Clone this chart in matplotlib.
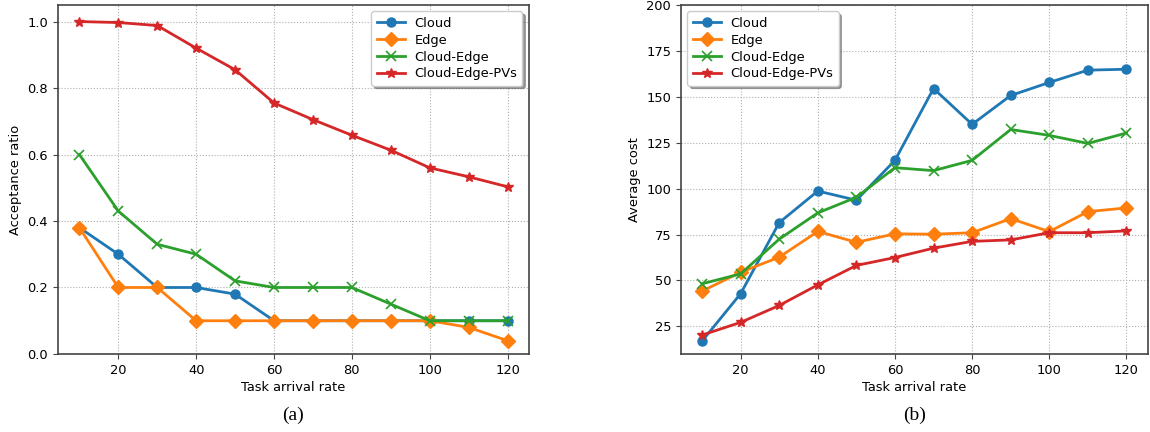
import numpy as np
import matplotlib
matplotlib.use("Agg")
import matplotlib.pyplot as plt

# task arrival rate
x = [10, 20, 30, 40, 50, 60, 70, 80, 90, 100, 110, 120]
names = ["Cloud", "Edge", "Cloud-Edge", "Cloud-Edge-PVs"]

# (a) acceptance ratio
acc_cloud = [0.38, 0.30, 0.20, 0.20, 0.18, 0.10, 0.10, 0.10, 0.10, 0.10, 0.10, 0.10]
acc_edge = [0.38, 0.20, 0.20, 0.10, 0.10, 0.10, 0.10, 0.10, 0.10, 0.10, 0.08, 0.04]
acc_ce = [0.60, 0.43, 0.33, 0.30, 0.22, 0.20, 0.20, 0.20, 0.15, 0.10, 0.10, 0.10]
acc_cepv = [1.0, 0.997, 0.988, 0.92, 0.855, 0.755, 0.705, 0.658, 0.613, 0.56, 0.533, 0.503]

# (b) average cost
cost_cloud = [17.0, 42.8, 81.5, 98.7, 93.7, 115.4, 154.5, 135.0, 150.7, 157.8, 164.5, 165.0]
cost_edge = [44.2, 54.5, 62.7, 76.7, 70.8, 75.4, 75.2, 76.0, 83.7, 76.6, 87.5, 89.5]
cost_ce = [48.2, 53.6, 72.5, 86.8, 95.3, 111.4, 109.8, 115.4, 132.2, 129.0, 124.6, 130.3]
cost_cepv = [20.3, 27.2, 36.4, 47.6, 58.2, 62.5, 67.6, 71.3, 72.1, 76.0, 76.0, 77.0]

styles = [
    dict(color="#1f77b4", marker="o", ms=6.5),
    dict(color="#ff7f0e", marker="D", ms=7),
    dict(color="#2ca02c", marker="x", ms=7, mew=1.2),
    dict(color="#d62728", marker="*", ms=7.5),
]

FS = 9.4
plt.rcParams["font.family"] = "DejaVu Sans"
plt.rcParams["font.size"] = FS

fig = plt.figure(figsize=(11.5, 4.32), dpi=100)
ax1 = fig.add_axes([0.0504, 0.1806, 0.4096, 0.808])
ax2 = fig.add_axes([0.592, 0.1806, 0.406, 0.808])


def draw(ax, series, ylabel, ylim, yticks, ytl, loc):
    for ys, name, st in zip(series, names, styles):
        ax.plot(x, ys, label=name, lw=2, **st)
    ax.set_xlim(4.5, 125.5)
    ax.set_ylim(*ylim)
    ax.set_xticks([20, 40, 60, 80, 100, 120])
    ax.set_yticks(yticks)
    ax.set_yticklabels(ytl)
    ax.grid(True, ls=":", color="#b0b0b0", lw=0.8)
    ax.set_axisbelow(True)
    for s in ax.spines.values():
        s.set_color("#444444")
        s.set_linewidth(1.2)
    ax.tick_params(colors="#444444", labelcolor="black", labelsize=FS, length=3.5)
    ax.set_xlabel("Task arrival rate", fontsize=FS, labelpad=3)
    ax.set_ylabel(ylabel, fontsize=FS, labelpad=4)
    ax.legend(loc=loc, shadow=True, fancybox=True, fontsize=FS, framealpha=1,
              edgecolor="#cccccc", handlelength=2.2, borderpad=0.4,
              labelspacing=0.3, handletextpad=0.7)


draw(ax1, [acc_cloud, acc_edge, acc_ce, acc_cepv], "Acceptance ratio",
     (0, 1.05), [0, 0.2, 0.4, 0.6, 0.8, 1.0],
     ["0.0", "0.2", "0.4", "0.6", "0.8", "1.0"], "upper right")
draw(ax2, [cost_cloud, cost_edge, cost_ce, cost_cepv], "Average cost",
     (10, 200), [25, 50, 75, 100, 125, 150, 175, 200],
     ["25", "50", "75", "100", "125", "150", "175", "200"], "upper left")

fig.text(0.255, 0.039, "(a)", ha="center", va="center", fontsize=14, family="Liberation Serif")
fig.text(0.795, 0.039, "(b)", ha="center", va="center", fontsize=14, family="Liberation Serif")

fig.savefig("out.png", dpi=100)
